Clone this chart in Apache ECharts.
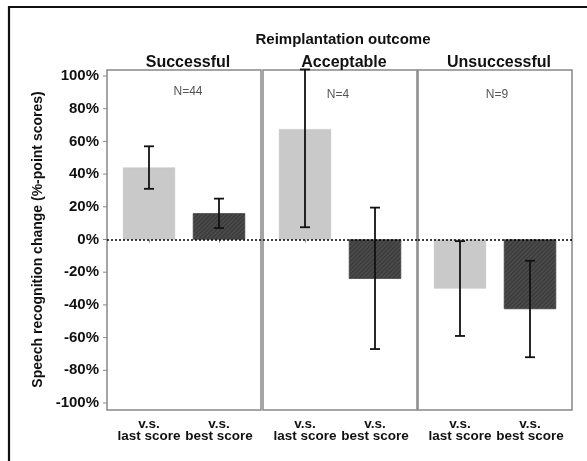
<!DOCTYPE html>
<html>
<head>
<meta charset="utf-8">
<script src="https://cdn.jsdelivr.net/npm/echarts@6/dist/echarts.min.js"></script>
<style>html,body{margin:0;padding:0;background:#fff}#c{width:587px;height:461px}</style>
</head>
<body>
<div id="c"></div>
<script>
var mainTitle = 'Reimplantation outcome';
var groups = ['Successful', 'Acceptable', 'Unsuccessful'];
var nLabels = ['N=44', 'N=4', 'N=9'];
var categories = ['v.s.\nlast score', 'v.s.\nbest score'];
var yTickValues = [-100, -80, -60, -40, -20, 0, 20, 40, 60, 80, 100];
var lastMean = [44, 67.5, -30];
var lastLow = [31, 7.5, -59];
var lastHigh = [57, 104, -1];
var bestMean = [16, -24, -42.5];
var bestLow = [7, -67, -72];
var bestHigh = [25, 19.5, -13];

var FONT = '"Liberation Sans", Arial, sans-serif';
var panelLeft = [107, 263, 418];
var panelW = 154;
var LIGHT = '#c9c9c9', DARK = '#4a4a4a';

var grids = [], xAxes = [], yAxes = [], series = [], titles = [];
for (var i = 0; i < 3; i++) {
  grids.push({left: panelLeft[i] + 7, width: panelW - 14, top: 76, height: 327});
}
for (var i = 0; i < 3; i++) {
  grids.push({left: panelLeft[i], width: panelW, top: 70, height: 340, show: true, borderColor: '#888', borderWidth: 1.5, backgroundColor: 'transparent'});
}
for (var i = 0; i < 3; i++) {
  xAxes.push({
    type: 'category', gridIndex: i, data: categories, offset: 7,
    axisLine: {show: false},
    axisTick: {show: true, alignWithLabel: true, length: 3, lineStyle: {color: '#888'}},
    axisLabel: {interval: 0, color: '#111', fontFamily: FONT, fontWeight: 'bold', fontSize: 13.5, lineHeight: 12, margin: 8}
  });
  yAxes.push({
    type: 'value', gridIndex: i, min: -100, max: 100, interval: 20,
    splitLine: {show: false},
    axisLine: {show: false},
    axisTick: {show: false},
    axisLabel: {show: i === 0, color: '#111', fontFamily: FONT, fontWeight: 'bold', fontSize: 15, margin: 15,
      verticalAlign: 'middle', padding: [10, 0, 0, 0],
      formatter: function (v) { return v + '%'; }},
    name: i === 0 ? 'Speech recognition change (%-point scores)' : '',
    nameLocation: 'middle', nameGap: 69,
    nameTextStyle: {color: '#111', fontFamily: FONT, fontWeight: 'bold', fontSize: 14}
  });
}
for (var i = 0; i < 3; i++) {
  xAxes.push({type: 'value', gridIndex: 3 + i, show: false, min: 0, max: 1});
  yAxes.push({type: 'value', gridIndex: 3 + i, show: false, min: -100 * 170.5 / 163.5, max: 100 * 169.5 / 163.5});
}

for (var i = 0; i < 3; i++) {
  series.push({
    type: 'bar', xAxisIndex: i, yAxisIndex: i, barWidth: 52, z: 2,
    data: [
      {value: lastMean[i], itemStyle: {color: LIGHT, borderColor: '#bdbdbd', borderWidth: 0.5}},
      {value: bestMean[i], itemStyle: {color: DARK, borderColor: '#444', borderWidth: 0.5,
        decal: {symbol: 'rect', dashArrayX: [1, 0], dashArrayY: [1, 2], rotation: -Math.PI / 4, color: 'rgba(0,0,0,0.25)'}}}
    ]
  });
  series.push({
    type: 'custom', xAxisIndex: i, yAxisIndex: i, z: 5, clip: false,
    data: [[0, lastLow[i], lastHigh[i]], [1, bestLow[i], bestHigh[i]]],
    renderItem: function (params, api) {
      var x = api.value(0);
      var lo = api.coord([x, api.value(1)]);
      var hi = api.coord([x, api.value(2)]);
      var cw = 5;
      var st = {stroke: '#111', lineWidth: 1.8};
      return {type: 'group', children: [
        {type: 'line', shape: {x1: lo[0], y1: lo[1], x2: hi[0], y2: hi[1]}, style: st},
        {type: 'line', shape: {x1: lo[0] - cw, y1: lo[1], x2: lo[0] + cw, y2: lo[1]}, style: st},
        {type: 'line', shape: {x1: hi[0] - cw, y1: hi[1], x2: hi[0] + cw, y2: hi[1]}, style: st}
      ]};
    }
  });
  series.push({
    type: 'line', xAxisIndex: 3 + i, yAxisIndex: 3 + i, data: [], silent: true,
    markLine: {
      silent: true, symbol: 'none', label: {show: false}, animation: false,
      lineStyle: {color: '#000', type: [2, 2], width: 1.5},
      data: [{yAxis: 0}]
    }
  });
}
series.push({
  type: 'custom', xAxisIndex: 0, yAxisIndex: 0, clip: false, z: 3,
  data: yTickValues.map(function (v) { return [0, v]; }),
  renderItem: function (params, api) {
    var p = api.coord([0, api.value(1)]);
    var x0 = panelLeft[0];
    return {type: 'line', shape: {x1: x0 - 4, y1: p[1], x2: x0, y2: p[1]}, style: {stroke: '#888', lineWidth: 1}};
  }
});

titles.push({text: mainTitle, left: 338, top: 27, textAlign: 'center',
  textStyle: {fontFamily: FONT, fontWeight: 'bold', fontSize: 15, color: '#111'}});
var titleX = [183, 339, 494];
var nX = [183, 333, 492];
var nY = [81, 84, 84];
for (var i = 0; i < 3; i++) {
  titles.push({text: groups[i], left: titleX[i], top: 50, textAlign: 'center',
    textStyle: {fontFamily: FONT, fontWeight: 'bold', fontSize: 16, color: '#111'}});
  titles.push({text: nLabels[i], left: nX[i], top: nY[i], textAlign: 'center',
    textStyle: {fontFamily: FONT, fontWeight: 'normal', fontSize: 12, color: '#555'}});
}

var chart = echarts.init(document.getElementById('c'), null, {renderer: 'canvas'});
chart.setOption({
  animation: false,
  backgroundColor: '#fff',
  title: titles,
  grid: grids,
  xAxis: xAxes,
  yAxis: yAxes,
  series: series,
  graphic: [{type: 'rect', shape: {x: 9, y: 7, width: 640, height: 520},
    style: {fill: 'none', stroke: '#111', lineWidth: 2.2}, silent: true}]
});
</script>
</body>
</html>
